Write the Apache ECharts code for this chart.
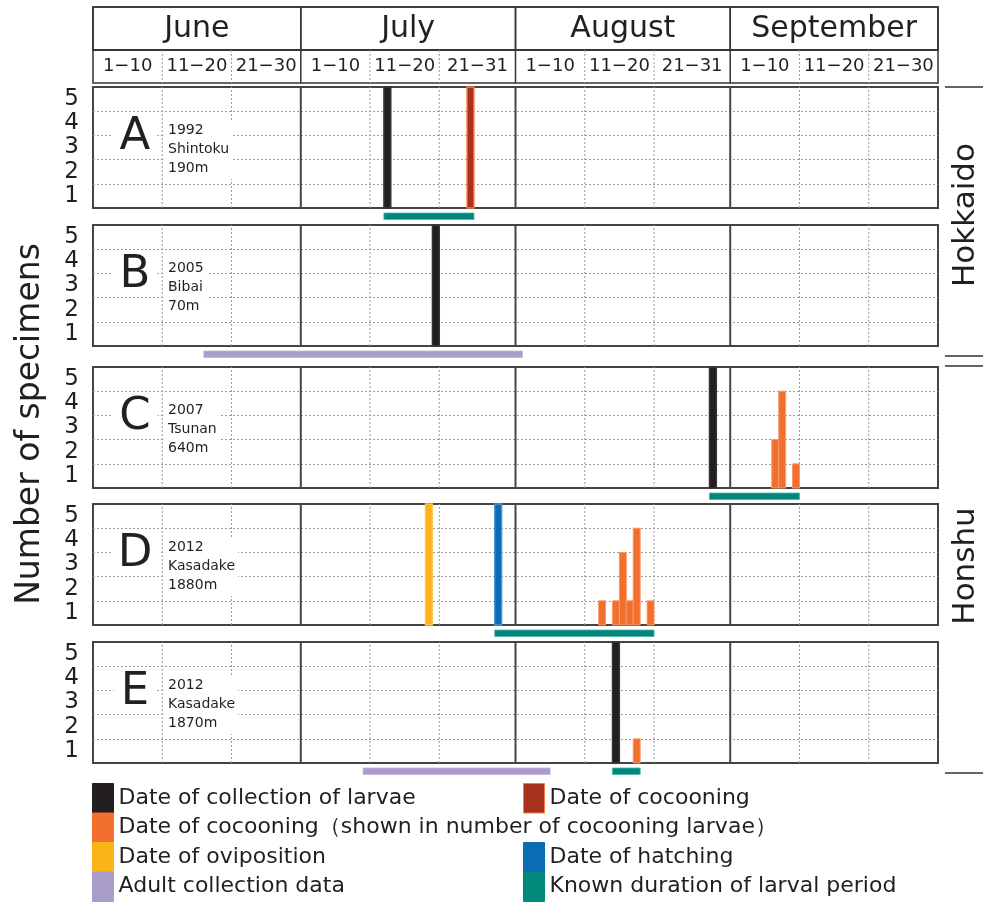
<!DOCTYPE html>
<html>
<head>
<meta charset="utf-8">
<script src="https://cdn.jsdelivr.net/npm/echarts@6/dist/echarts.min.js"></script>
<style>html,body{margin:0;padding:0;background:#fff}#c{width:983px;height:903px}</style>
</head>
<body>
<div id="c"></div>
<script>
// ---------- data ----------
const months = ['June', 'July', 'August', 'September'];
const monthDays = [30, 31, 31, 30];
const yTicks = ['1', '2', '3', '4', '5'];
const panelLetters = ['A', 'B', 'C', 'D', 'E'];
const panelInfo = ['1992\nShintoku\n190m', '2005\nBibai\n70m', '2007\nTsunan\n640m', '2012\nKasadake\n1880m', '2012\nKasadake\n1870m'];
const regions = ['Hokkaido', 'Honshu'];
// dates as [monthIndex(0=June), day]
const collection = [[[1, 13]], [[1, 20]], [[2, 29]], [], [[2, 15]]];
const cocoonSingle = [[[1, 25]], [], [], [], []];
const cocoonCounts = [[], [], [[3, 7, 2], [3, 8, 4], [3, 10, 1]],
  [[2, 13, 1], [2, 15, 1], [2, 16, 3], [2, 17, 1], [2, 18, 4], [2, 20, 1]], [[2, 18, 1]]];
const oviposition = [[], [], [], [[1, 19]], []];
const hatching = [[], [], [], [[1, 29]], []];
// periods [m1, d1, m2, d2] inclusive
const adultPeriod = [[], [[0, 17, 2, 1]], [], [], [[1, 10, 2, 5]]];
const larvalPeriod = [[[1, 13, 1, 25]], [], [[2, 29, 3, 10]], [[1, 29, 2, 20]], [[2, 15, 2, 18]]];

const names = {
  col: 'Date of collection of larvae',
  coc: 'Date of cocooning',
  cnt: 'Date of cocooning（shown in number of cocooning larvae）',
  ovi: 'Date of oviposition',
  hat: 'Date of hatching',
  adu: 'Adult collection data',
  lar: 'Known duration of larval period'
};
const colors = {
  col: '#231f20', coc: '#a8311b', cnt: '#f36f2e', ovi: '#fbb418',
  hat: '#0b6cb6', adu: '#a99bca', lar: '#00897a'
};
const borders = {
  col: '#3a3637', coc: '#f47a4a', cnt: '#f79a6a', ovi: '#fcc850',
  hat: '#4a90cc', adu: '#c0b4dc', lar: '#4fb0a4'
};

// ---------- helpers ----------
const monthStart = [];
{ let s = 0; monthDays.forEach(d => { monthStart.push(s); s += d; }); }
const totalDays = monthDays.reduce((a, b) => a + b, 0);
const dayIdx = (m, d) => monthStart[m] + d - 1;

const FONT = 'DejaVu Sans';
const TXT = '#231f20';
const panelTops = [87, 225, 367, 504, 642];
const panelH = 121;

const grids = [], xAxes = [], yAxes = [], series = [], graphics = [];

// boundaries for panel grid lines
const boundaries = [];
monthDays.forEach((md, m) => {
  boundaries.push([monthStart[m] + 10, 0]);
  boundaries.push([monthStart[m] + 20, 0]);
  if (m < monthDays.length - 1) boundaries.push([monthStart[m] + md, 1]);
});

function eventBar(color, border, lw) {
  return function (params, api) {
    const s = api.value(0), v = api.value(1);
    const p0 = api.coord([s, 0]), p1 = api.coord([s + 1, v]);
    return {
      type: 'rect',
      shape: { x: p0[0], y: p1[1], width: p1[0] - p0[0], height: p0[1] - p1[1] },
      style: { fill: color, stroke: border, lineWidth: lw }
    };
  };
}
function periodBar(color, border) {
  return function (params, api) {
    const p0 = api.coord([api.value(0), 0]), p1 = api.coord([api.value(1), 0]);
    return {
      type: 'rect',
      shape: { x: p0[0], y: p0[1] + 5, width: p1[0] - p0[0], height: 6.5 },
      style: { fill: color, stroke: border, lineWidth: 0.8 }
    };
  };
}

panelTops.forEach((top, p) => {
  grids.push({ left: 93, right: 45, top: top, height: panelH, show: true, borderColor: '#444', borderWidth: 2, backgroundColor: '#fff' });
  xAxes.push({ type: 'value', gridIndex: p, min: 0, max: totalDays, show: false });
  yAxes.push({
    type: 'value', gridIndex: p, min: 0, max: yTicks.length, interval: 1,
    axisLabel: { show: false }, axisLine: { show: false }, axisTick: { show: false },
    splitLine: { show: true, showMinLine: false, showMaxLine: false, lineStyle: { color: '#9a9a9a', type: [2, 2], width: 1 } }
  });
  yAxes.push({
    type: 'category', gridIndex: p, data: yTicks, boundaryGap: true, position: 'left',
    axisLine: { show: false }, axisTick: { show: false }, splitLine: { show: false },
    axisLabel: { interval: 0, fontSize: 23, fontFamily: FONT, color: TXT, margin: 14, hideOverlap: false }
  });
  const xi = p, yi = 2 * p;
  // grid lines
  series.push({
    type: 'custom', name: 'grid' + p, xAxisIndex: xi, yAxisIndex: yi, z: 1, silent: true,
    data: boundaries,
    renderItem: function (params, api) {
      const x = api.value(0), solid = api.value(1) === 1;
      const a = api.coord([x, 0]), b = api.coord([x, yTicks.length]);
      return {
        type: 'line', shape: { x1: a[0], y1: a[1], x2: b[0], y2: b[1] },
        style: solid ? { stroke: '#444', lineWidth: 2 } : { stroke: '#9a9a9a', lineWidth: 1, lineDash: [2, 2] }
      };
    }
  });
  const full = yTicks.length;
  const addEvents = (key, list, lw) => {
    series.push({
      type: 'custom', name: names[key], xAxisIndex: xi, yAxisIndex: yi, z: 3, silent: true,
      itemStyle: { color: colors[key], borderColor: borders[key] },
      data: list.map(e => [dayIdx(e[0], e[1]), e.length > 2 ? e[2] : full]),
      renderItem: eventBar(colors[key], borders[key], lw)
    });
  };
  addEvents('col', collection[p], 1.4);
  addEvents('coc', cocoonSingle[p], 1.4);
  addEvents('cnt', cocoonCounts[p], 1);
  addEvents('ovi', oviposition[p], 1.4);
  addEvents('hat', hatching[p], 1.4);
  const addPeriods = (key, list) => {
    series.push({
      type: 'custom', name: names[key], xAxisIndex: xi, yAxisIndex: yi, z: 3, silent: true, clip: false,
      itemStyle: { color: colors[key] },
      data: list.map(e => [dayIdx(e[0], e[1]), dayIdx(e[2], e[3]) + 1]),
      renderItem: periodBar(colors[key], borders[key])
    });
  };
  addPeriods('adu', adultPeriod[p]);
  addPeriods('lar', larvalPeriod[p]);

  // panel letter & info
  graphics.push({
    type: 'text', z: 10, x: 135, y: top + 50,
    style: { text: panelLetters[p], font: '45px ' + FONT, fill: TXT, align: 'center', verticalAlign: 'middle', backgroundColor: '#fff', padding: [0, 7], lineHeight: 44 }
  });
  graphics.push({
    type: 'text', z: 10, x: 165, y: top + 33,
    style: { text: panelInfo[p], font: '14px ' + FONT, fill: TXT, align: 'left', verticalAlign: 'top', lineHeight: 19, backgroundColor: '#fff', padding: [1, 3] }
  });
});

// ---------- header ----------
const hMonthGrid = grids.length;
grids.push({ left: 93, right: 45, top: 7, height: 43, show: true, borderColor: '#333', borderWidth: 1.5 });
xAxes.push({ type: 'value', gridIndex: hMonthGrid, min: 0, max: totalDays, show: false });
yAxes.push({ type: 'value', gridIndex: hMonthGrid, min: 0, max: 1, show: false });
const hDecGrid = grids.length;
grids.push({ left: 93, right: 45, top: 50, height: 33, show: true, borderColor: '#333', borderWidth: 1.5 });
xAxes.push({ type: 'value', gridIndex: hDecGrid, min: 0, max: totalDays, show: false });
yAxes.push({ type: 'value', gridIndex: hDecGrid, min: 0, max: 1, show: false });

const monthCells = months.map((m, i) => [monthStart[i], monthStart[i] + monthDays[i]]);
const decLabels = [], decCells = [];
monthDays.forEach((md, m) => {
  const s = monthStart[m];
  [[1, 10], [11, 20], [21, md]].forEach(([a, b], k) => {
    decLabels.push(a + '−' + b);
    decCells.push([s + a - 1, s + b, k === 2 ? 1 : 0]);
  });
});

series.push({
  type: 'custom', name: 'months', xAxisIndex: xAxes.length - 2, yAxisIndex: yAxes.length - 2, silent: true,
  data: monthCells,
  renderItem: function (params, api) {
    const a = api.coord([api.value(0), 1]), b = api.coord([api.value(1), 0]);
    return {
      type: 'group', children: [
        { type: 'rect', shape: { x: a[0], y: a[1], width: b[0] - a[0], height: b[1] - a[1] }, style: { fill: 'none', stroke: '#333', lineWidth: 1.5 } },
        { type: 'text', style: { text: months[params.dataIndex], x: (a[0] + b[0]) / 2, y: (a[1] + b[1]) / 2 + 1, align: 'center', verticalAlign: 'middle', font: '30px ' + FONT, fill: TXT } }
      ]
    };
  }
});
series.push({
  type: 'custom', name: 'decades', xAxisIndex: xAxes.length - 1, yAxisIndex: yAxes.length - 1, silent: true,
  data: decCells,
  renderItem: function (params, api) {
    const a = api.coord([api.value(0), 1]), b = api.coord([api.value(1), 0]);
    const monthEnd = api.value(2) === 1;
    const children = [
      { type: 'text', style: { text: decLabels[params.dataIndex], x: (a[0] + b[0]) / 2, y: (a[1] + b[1]) / 2, align: 'center', verticalAlign: 'middle', font: '18px ' + FONT, fill: TXT } }
    ];
    if (params.dataIndex < decCells.length - 1) {
      children.push({
        type: 'line', shape: { x1: b[0], y1: a[1], x2: b[0], y2: b[1] },
        style: monthEnd ? { stroke: '#333', lineWidth: 1.5 } : { stroke: '#9a9a9a', lineWidth: 1, lineDash: [2, 2] }
      });
    }
    return { type: 'group', children: children };
  }
});

// ---------- side texts & brackets ----------
graphics.push({ type: 'text', z: 10, x: 30, y: 424, rotation: Math.PI / 2,
  style: { text: 'Number of specimens', font: '33px ' + FONT, fill: TXT, align: 'center', verticalAlign: 'middle' } });
graphics.push({ type: 'text', z: 10, x: 966, y: 215, rotation: Math.PI / 2,
  style: { text: regions[0], font: '31px ' + FONT, fill: TXT, align: 'center', verticalAlign: 'middle' } });
graphics.push({ type: 'text', z: 10, x: 966, y: 566, rotation: Math.PI / 2,
  style: { text: regions[1], font: '31px ' + FONT, fill: TXT, align: 'center', verticalAlign: 'middle' } });
[87, 356, 366, 773].forEach(y => {
  graphics.push({ type: 'line', z: 10, shape: { x1: 945, y1: y, x2: 983, y2: y }, style: { stroke: '#333', lineWidth: 1.5 } });
});

// ---------- legends (one row each) ----------
const legItem = k => ({ name: names[k], itemStyle: { color: colors[k], borderColor: k === 'coc' ? borders[k] : colors[k], borderWidth: 1 } });
const legBase = {
  orient: 'horizontal', itemGap: 0, itemWidth: 21, itemHeight: 29.5, icon: 'rect', selectedMode: false, padding: 0,
  textStyle: { fontSize: 22, fontFamily: FONT, color: TXT }
};
const legendRows = [
  [92, 783, 'col'], [92, 812.5, 'cnt'], [92, 842, 'ovi'], [92, 871.5, 'adu'],
  [523, 783, 'coc'], [523, 842, 'hat'], [523, 871.5, 'lar']
];
const legends = legendRows.map(([l, t, k]) => Object.assign({}, legBase, { left: l, top: t, data: [legItem(k)] }));

const chart = echarts.init(document.getElementById('c'), null, { renderer: 'canvas' });
chart.setOption({
  animation: false,
  backgroundColor: '#fff',
  grid: grids, xAxis: xAxes, yAxis: yAxes, series: series,
  legend: legends,
  graphic: graphics
});
</script>
</body>
</html>
